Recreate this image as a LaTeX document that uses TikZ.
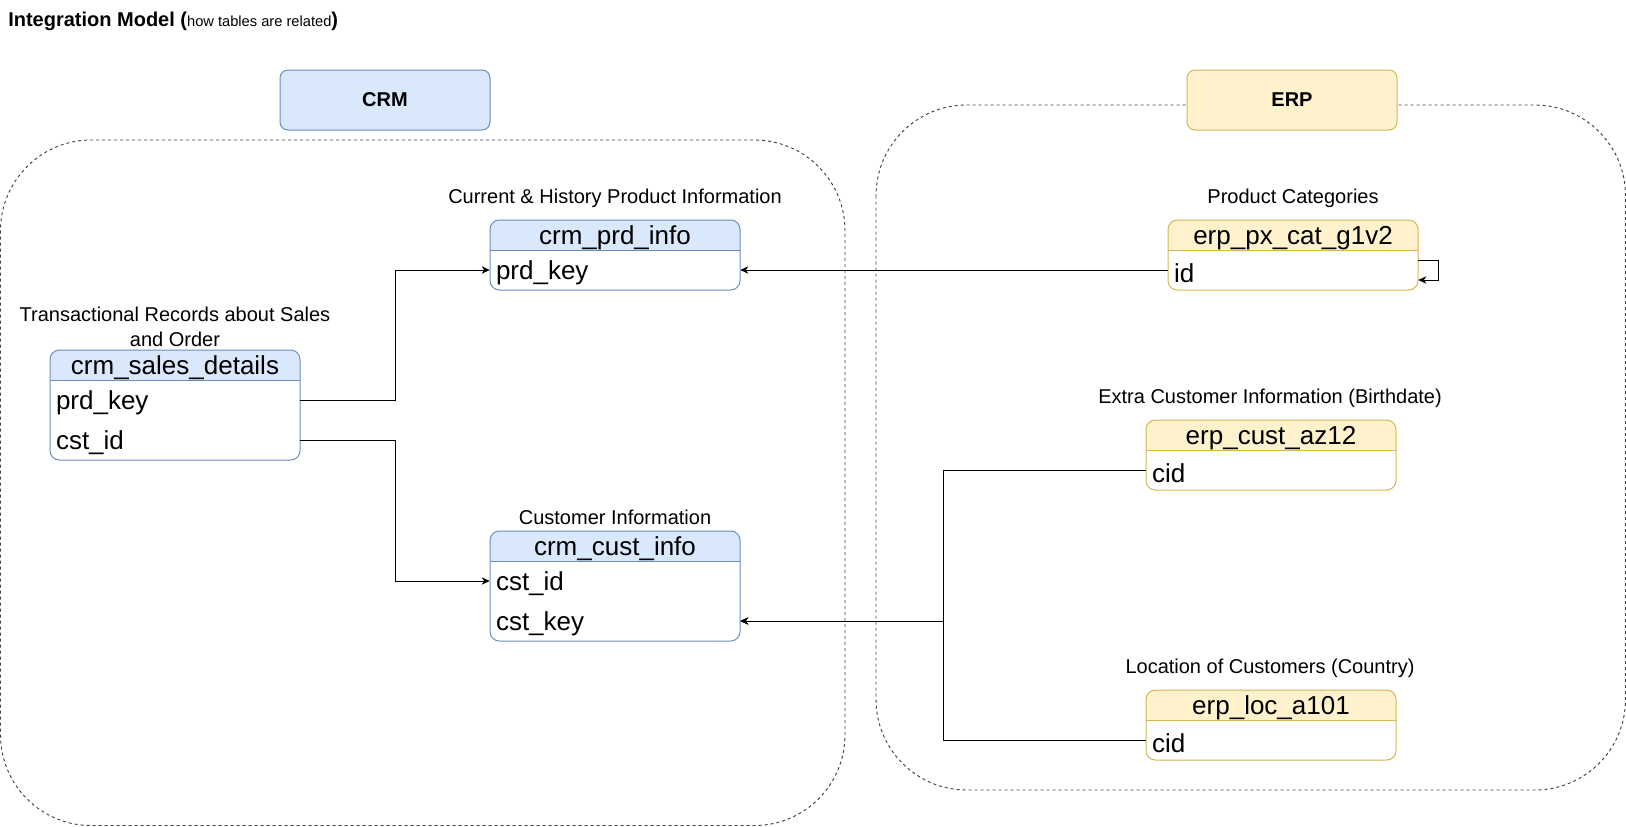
\documentclass[tikz,border=0pt]{standalone}
\usepackage{fontspec}
\setmainfont{Liberation Sans}
\usetikzlibrary{arrows.meta}

\definecolor{crmfill}{HTML}{DAE8FC}
\definecolor{crmline}{HTML}{6C8EBF}
\definecolor{erpfill}{HTML}{FFF2CC}
\definecolor{erpline}{HTML}{D6B656}

% table frame: coloured header band (30 units) above a white body
\newcommand{\ertbox}[6]{%
  \fill[white, rounded corners=7pt] (#1,#2) rectangle (#3,#4);
  \begin{scope}
    \clip[rounded corners=7pt] (#1,#2) rectangle (#3,#4);
    \fill[#5] (#1,#2) rectangle (#3,#2+30);
  \end{scope}
  \draw[#6, line width=0.75pt, rounded corners=7pt] (#1,#2) rectangle (#3,#4);
  \draw[#6, line width=0.75pt] (#1,#2+30) -- (#3,#2+30);
}

\tikzset{
  container/.style={draw=black!75, line width=0.7pt, dash pattern=on 2.25pt off 2.25pt, rounded corners=68pt},
  groupbox/.style={rounded corners=6pt, line width=0.75pt, minimum width=157.5pt, minimum height=45pt,
    font=\fontsize{15}{18}\selectfont\bfseries},
  tabtitle/.style={inner sep=0pt, yshift=-2.25pt, font=\fontsize{19.5}{22}\selectfont},
  fieldrow/.style={inner xsep=4.5pt, inner ysep=0pt, text width=178.5pt, align=left,
    minimum height=30pt, yshift=-2.25pt, font=\fontsize{19.5}{22}\selectfont},
  caption/.style={inner sep=0pt, align=center, yshift=-1.5pt, font=\fontsize{15}{18.75}\selectfont},
  arr/.style={line width=0.75pt, -{Stealth[length=6pt,width=5.5pt,inset=1.8pt]}}
}

\begin{document}
\begin{tikzpicture}[x=0.75pt, y=-0.75pt]
\useasboundingbox (0,0) rectangle (1626,826);

% title
\node[anchor=base west, inner sep=0pt] (title) at (8,26)
  {{\fontsize{15}{18}\selectfont\bfseries Integration Model (}{\fontsize{11}{13}\selectfont how tables are related}{\fontsize{15}{18}\selectfont\bfseries )}};

% source system containers
\draw[container] (0.5,140) rectangle (845,825.5);
\draw[container] (876,105) rectangle (1625.5,790);

\node[groupbox, draw=crmline, fill=crmfill] (crm) at (385,100) {CRM};
\node[groupbox, draw=erpline, fill=erpfill] (erp) at (1292,100) {ERP};

% ---- CRM tables ----
\node[caption] (capPrd) at (615,196) {Current \& History Product Information};
\ertbox{490}{220}{740}{290}{crmfill}{crmline}
\node[tabtitle] (prdT) at (615,235) {crm\_prd\_info};
\node[fieldrow] (prdKey) at (615,270) {prd\_key};

\node[caption] (capSales) at (175,325) {Transactional Records about Sales\\and Order};
\ertbox{50}{350}{300}{460}{crmfill}{crmline}
\node[tabtitle] (salesT) at (175,365) {crm\_sales\_details};
\node[fieldrow] (salesPrd) at (175,400) {prd\_key};
\node[fieldrow] (salesCst) at (175,440) {cst\_id};

\node[caption] (capCust) at (615,515) {Customer Information};
\ertbox{490}{531}{740}{641}{crmfill}{crmline}
\node[tabtitle] (custT) at (615,546) {crm\_cust\_info};
\node[fieldrow] (custId) at (615,581) {cst\_id};
\node[fieldrow] (custKey) at (615,621) {cst\_key};

% ---- ERP tables ----
\node[caption] (capCat) at (1293,196) {Product Categories};
\ertbox{1168}{220}{1418}{290}{erpfill}{erpline}
\node[tabtitle] (catT) at (1293,235) {erp\_px\_cat\_g1v2};
\node[fieldrow] (catId) at (1293,270) {id};

\node[caption] (capAz) at (1270,396) {Extra Customer Information (Birthdate)};
\ertbox{1146}{420}{1396}{490}{erpfill}{erpline}
\node[tabtitle] (azT) at (1271,435) {erp\_cust\_az12};
\node[fieldrow] (azCid) at (1271,470) {cid};

\node[caption] (capLoc) at (1270,666) {Location of Customers (Country)};
\ertbox{1146}{690}{1396}{760}{erpfill}{erpline}
\node[tabtitle] (locT) at (1271,705) {erp\_loc\_a101};
\node[fieldrow] (locCid) at (1271,740) {cid};

% ---- relations ----
\coordinate (busL) at (395,0);
\coordinate (busR) at (943,0);

\draw[arr] ([yshift=2.25pt]salesPrd.east) -- ([yshift=2.25pt]salesPrd.east -| busL) |- ([yshift=2.25pt]prdKey.west);
\draw[arr] ([yshift=2.25pt]salesCst.east) -- ([yshift=2.25pt]salesCst.east -| busL) |- ([yshift=2.25pt]custId.west);
\draw[arr] ([yshift=2.25pt]catId.west) -- ([yshift=2.25pt]prdKey.east);
\draw[arr] ([yshift=9.75pt]catId.east) -- ++(20,0) |- ([yshift=-5.25pt]catId.east);
\draw[arr] ([yshift=2.25pt]azCid.west) -- ([yshift=2.25pt]azCid.west -| busR) |- ([yshift=2.25pt]custKey.east);
\draw[arr] ([yshift=2.25pt]locCid.west) -- ([yshift=2.25pt]locCid.west -| busR) |- ([yshift=2.25pt]custKey.east);

\end{tikzpicture}
\end{document}
